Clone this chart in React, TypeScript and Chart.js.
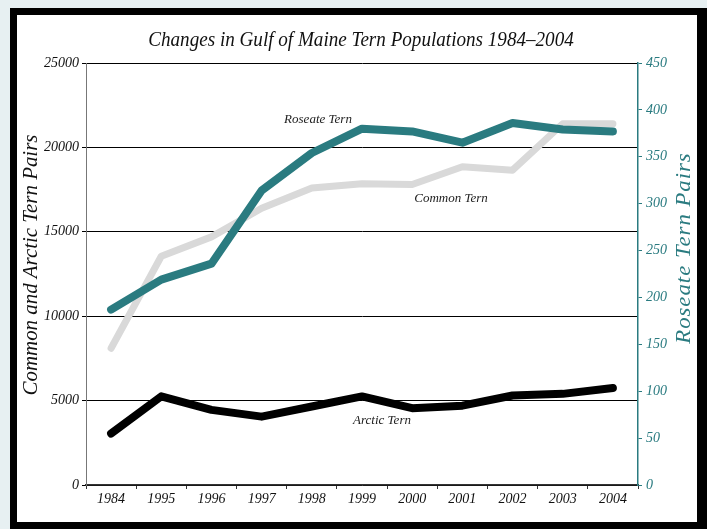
import React, { useEffect, useRef } from 'react';
import { Chart, registerables } from 'chart.js';

Chart.register(...registerables);

const years = ['1984', '1995', '1996', '1997', '1998', '1999', '2000', '2001', '2002', '2003', '2004'];
const commonTern = [8100, 13550, 14700, 16400, 17600, 17850, 17800, 18850, 18650, 21400, 21400];
const arcticTern = [3050, 5250, 4450, 4050, 4650, 5250, 4550, 4700, 5300, 5400, 5750];
const roseateTern = [187, 219, 236, 314, 354, 380, 377, 365, 386, 379, 377];

const leftMax = 25000;
const leftStep = 5000;
const rightMax = 450;
const rightStep = 50;

const chartTitle = 'Changes in Gulf of Maine Tern Populations 1984–2004';
const leftTitle = 'Common and Arctic Tern Pairs';
const rightTitle = 'Roseate Tern Pairs';

const TEAL = '#2a7b80';
const GRAY = '#d9d9d9';
const FONT = '"Liberation Serif", "DejaVu Serif", serif';

function drawCondensed(ctx: any, text: string, x: number, y: number, rot: number, sx: number) {
  ctx.save();
  ctx.translate(x, y);
  if (rot) ctx.rotate(rot);
  ctx.scale(sx, 1);
  ctx.fillText(text, 0, 0);
  ctx.restore();
}

const framePlugin = {
  id: 'frame',
  beforeDraw(chart: any) {
    const ctx = chart.ctx;
    ctx.save();
    ctx.fillStyle = '#e7f0f2';
    ctx.fillRect(0, 0, chart.width, chart.height);
    ctx.fillStyle = '#000';
    ctx.fillRect(10, 8, chart.width - 10, chart.height - 8);
    ctx.fillStyle = '#fff';
    ctx.fillRect(17, 15, 680, 507);
    ctx.restore();
  },
  afterDraw(chart: any) {
    const ctx = chart.ctx;
    ctx.save();
    ctx.textAlign = 'center';
    ctx.textBaseline = 'middle';
    // title
    ctx.fillStyle = '#111';
    ctx.font = `italic 21px ${FONT}`;
    drawCondensed(ctx, chartTitle, 361, 40, 0, 0.91);
    // left axis title
    ctx.font = `italic 22px ${FONT}`;
    ctx.fillStyle = '#111';
    drawCondensed(ctx, leftTitle, 31, 265, -Math.PI / 2, 0.95);
    // right axis title
    ctx.font = `italic 22px ${FONT}`;
    ctx.fillStyle = TEAL;
    (ctx as any).letterSpacing = '1px';
    drawCondensed(ctx, rightTitle, 684, 248, -Math.PI / 2, 1.03);
    (ctx as any).letterSpacing = '0px';
    // series labels
    ctx.font = `italic 13px ${FONT}`;
    ctx.fillStyle = '#222';
    ctx.fillText('Roseate Tern', 318, 120);
    ctx.fillText('Common Tern', 451, 199);
    ctx.fillText('Arctic Tern', 382, 421);
    ctx.restore();
  },
};

export default function App() {
  const ref = useRef<HTMLCanvasElement | null>(null);
  useEffect(() => {
    document.body.style.margin = '0';
    document.body.style.background = '#e7f0f2';
    if (!ref.current) return;
    const tickFont = { family: FONT, size: 14, style: 'italic' as const };
    const plain = (v: any) => String(v);
    const chart = new Chart(ref.current, {
      type: 'line',
      data: {
        labels: years,
        datasets: [
          {
            label: 'Roseate Tern',
            data: roseateTern,
            yAxisID: 'y1',
            borderColor: TEAL,
            borderWidth: 8,
            pointRadius: 0,
            tension: 0,
            borderCapStyle: 'round',
            borderJoinStyle: 'round',
          },
          {
            label: 'Arctic Tern',
            data: arcticTern,
            yAxisID: 'y',
            borderColor: '#000',
            borderWidth: 8,
            pointRadius: 0,
            tension: 0,
            borderCapStyle: 'round',
            borderJoinStyle: 'round',
          },
          {
            label: 'Common Tern',
            data: commonTern,
            yAxisID: 'y',
            borderColor: GRAY,
            borderWidth: 7,
            pointRadius: 0,
            tension: 0,
            borderCapStyle: 'round',
            borderJoinStyle: 'round',
          },
        ],
      },
      options: {
        animation: false,
        responsive: false,
        maintainAspectRatio: false,
        layout: { padding: { top: 63, left: 0, right: 0, bottom: 0 } },
        plugins: {
          legend: { display: false },
          title: { display: false },
          tooltip: { enabled: false },
        },
        scales: {
          x: {
            type: 'category',
            offset: true,
            grid: {
              display: true,
              drawOnChartArea: false,
              drawTicks: true,
              tickLength: 4,
              color: '#333',
              offset: true,
            },
            border: { display: true, color: '#333', width: 1.5 },
            ticks: { color: '#111', font: tickFont, padding: 2, maxRotation: 0, autoSkip: false },
            afterFit(s: any) {
              s.height = 44;
              s.paddingLeft = 0;
              s.paddingRight = 0;
            },
          },
          y: {
            position: 'left',
            min: 0,
            max: leftMax,
            grid: { color: '#000', lineWidth: 1, tickLength: 4, drawTicks: true },
            border: { display: true, color: '#777', width: 1 },
            ticks: { stepSize: leftStep, color: '#111', font: tickFont, padding: 3, callback: plain },
            afterFit(s: any) {
              s.width = 86;
              s.paddingTop = 0;
              s.paddingBottom = 0;
            },
          },
          y1: {
            position: 'right',
            min: 0,
            max: rightMax,
            grid: { drawOnChartArea: false, color: TEAL, tickLength: 4, drawTicks: true },
            border: { display: true, color: TEAL, width: 1.5 },
            ticks: { stepSize: rightStep, color: TEAL, font: tickFont, padding: 4, callback: plain },
            afterFit(s: any) {
              s.width = 69;
              s.paddingTop = 0;
              s.paddingBottom = 0;
            },
          },
        },
      },
      plugins: [framePlugin],
    });
    return () => chart.destroy();
  }, []);
  return (
    <div style={{ width: 707, height: 529, background: '#e7f0f2' }}>
      <canvas ref={ref} width={707} height={529} style={{ display: 'block' }} />
    </div>
  );
}
